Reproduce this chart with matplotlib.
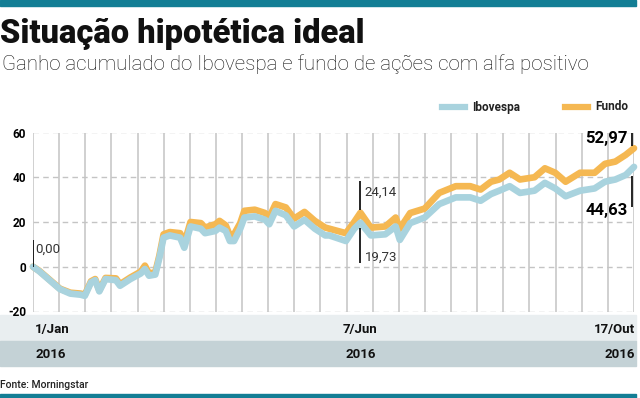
import numpy as np
import matplotlib
matplotlib.use("Agg")
import matplotlib.pyplot as plt
from matplotlib.patches import Rectangle
from matplotlib.lines import Line2D
import matplotlib.transforms as mtransforms

# ----------------------------
# Data
# ----------------------------
# days since 1/Jan/2016
day = [0, 3, 8, 13, 18, 23, 25, 28, 30, 32, 35, 40, 42, 47, 52, 54, 56, 59,
       61, 63, 66, 71, 73, 76, 81, 83, 88, 90, 93, 95, 97, 100, 102, 107,
       112, 114, 117, 122, 126, 131, 136, 141, 143, 151, 155, 158, 163, 170,
       175, 177, 182, 189, 196, 204, 211, 216, 221, 225, 230, 235, 242, 247,
       252, 257, 264, 271, 276, 281, 286, 290]

ibovespa = [0, -2, -6, -10, -12, -12.5, -13, -7, -6, -11, -5.5, -6, -8.5, -5.5,
            -3, -1, -4, -3.5, 4, 13, 14, 13, 8.5, 18, 17, 15, 16, 17.5, 16, 11.5,
            11.5, 17, 22, 22.5, 21, 19, 25, 23, 18, 21, 17, 14, 14, 11.5, 17,
            19.73, 14, 14.5, 18, 12, 19.5, 22, 28, 31, 31, 29.5, 32.5, 34, 36,
            33, 34, 37.5, 35, 31.5, 34, 35, 38, 39, 41, 44.63]

fundo = [0, -1.8, -5.8, -9.8, -11.6, -12, -12.5, -6.5, -5.5, -10.5, -5, -5.2,
         -7.8, -4.8, -2.2, 0.5, -3, -2.5, 5, 14.5, 15.5, 15, 10.5, 20, 19.5,
         17.5, 19, 20.5, 18.5, 14, 14.5, 19.5, 25, 25.5, 24, 22, 28, 26.5,
         21.5, 24.5, 20.5, 17.5, 17, 15, 20, 24.14, 17.5, 18, 22, 17, 24, 26,
         33, 36, 36, 34.5, 38, 39, 42, 39, 40, 44, 42, 38, 42, 42, 46, 47, 50,
         52.97]

series_names = ["Ibovespa", "Fundo"]
y_ticks = [-20, 0, 20, 40, 60]
x_label_days = [0, 158, 290]
x_labels = ["1/Jan", "7/Jun", "17/Out"]
year_labels = ["2016", "2016", "2016"]

title = "Situação hipotética ideal"
subtitle = "Ganho acumulado do Ibovespa e fundo de ações com alfa positivo"
source = "Fonte: Morningstar"

BLUE = "#a9d3de"
ORANGE = "#f5b852"
TEAL = "#137e95"
LIGHT_BAND = "#e9eef0"
DARK_BAND = "#c4d2d6"
GRID = "#c4c4c4"

plt.rcParams["font.family"] = ["Roboto", "DejaVu Sans"]

W, H = 640, 398
fig = plt.figure(figsize=(6.4, 3.98), dpi=100)


def fx(px):
    return px / W


def fy(py):
    return 1 - py / H


# ----------------------------
# Frame: bands, title
# ----------------------------
for y0, h, col in [(6, 6, TEAL), (398, 4, TEAL), (341, 26, LIGHT_BAND), (366, 25, DARK_BAND)]:
    fig.patches.append(Rectangle((0, fy(y0)), fx(636), h / H, transform=fig.transFigure,
                                 color=col, zorder=-1))

fig.text(fx(0), fy(34), title, fontsize=23.5, fontweight="heavy", va="center",
         ha="left", color="#111111")
fig.text(fx(2), fy(64), subtitle, fontsize=14.8, fontweight="light", va="center",
         ha="left", color="#111111")
fig.text(fx(0), fy(385), source, fontsize=7.5, fontweight="medium", va="center",
         ha="left", color="#222222")

# legend
leg = [(442, 465, 472, BLUE, series_names[0]), (565, 588, 595, ORANGE, series_names[1])]
for x0, x1, tx, col, name in leg:
    fig.add_artist(Line2D([fx(x0), fx(x1)], [fy(107), fy(107)], color=col, lw=4.5,
                          transform=fig.transFigure))
    fig.text(fx(tx), fy(107), name, fontsize=8.5, fontweight="bold", va="center",
             ha="left", color="#222222")

# ----------------------------
# Chart
# ----------------------------
ax = fig.add_axes([fx(33), fy(311.5), fx(634 - 33), (311.5 - 132.5) / H])
ax.set_xlim(0, 290)
ax.set_ylim(-20, 60)
for s in ax.spines.values():
    s.set_visible(False)
ax.set_facecolor("none")

ax.vlines(np.linspace(0, 290, 24), -20, 60, color=GRID, lw=1.1, zorder=1)
for t in y_ticks:
    ax.axhline(t, color=GRID, lw=1.0, ls=(0, (4, 3)), zorder=1)

ax.plot(day, fundo, color=ORANGE, lw=4.8, solid_joinstyle="round",
        solid_capstyle="round", zorder=3, clip_on=False)
ax.plot(day, ibovespa, color=BLUE, lw=4.8, solid_joinstyle="round",
        solid_capstyle="round", zorder=4, clip_on=False)

ax.set_yticks(y_ticks)
ax.set_yticklabels([str(t) for t in y_ticks], fontweight="bold", fontsize=8.5)
ax.tick_params(axis="y", length=0, pad=5)
ax.set_xticks([])


def fmt(v):
    return f"{v:.2f}".replace(".", ",")


# value markers
ax.vlines(day[0], ibovespa[0], ibovespa[0] + 12, color="black", lw=1.2, zorder=5)
ax.text(day[0] + 1.2, ibovespa[0] + 8, fmt(ibovespa[0]), fontsize=9.5,
        va="center", ha="left", color="#333333")

ax.vlines(day[45], fundo[45] + 1, fundo[45] + 14, color="black", lw=1.2, zorder=5)
ax.text(day[45] + 2, fundo[45] + 9, fmt(fundo[45]), fontsize=9.5,
        va="center", ha="left", color="#333333")
ax.vlines(day[45], ibovespa[45] - 2.5, ibovespa[45] - 18, color="black", lw=1.2, zorder=5)
ax.text(day[45] + 2, ibovespa[45] - 15.5, fmt(ibovespa[45]), fontsize=9.5,
        va="center", ha="left", color="#333333")

ax.vlines(day[-1] - 1, fundo[-1] + 1, fundo[-1] + 7, color="black", lw=1.2, zorder=5)
ax.text(day[-1] - 3, fundo[-1] + 4.5, fmt(fundo[-1]), fontsize=12,
        fontweight="bold", va="center", ha="right")
ax.vlines(day[-1] - 1, ibovespa[-1] - 4, ibovespa[-1] - 18, color="black", lw=1.2, zorder=5)
ax.text(day[-1] - 3, ibovespa[-1] - 19.5, fmt(ibovespa[-1]), fontsize=12,
        fontweight="bold", va="center", ha="right")

# x labels in the bands
trans = mtransforms.blended_transform_factory(ax.transData, fig.transFigure)
aligns = ["left", "center", "right"]
nudges = [1, 0, 0.5]
for d, lab, yr, ha, n in zip(x_label_days, x_labels, year_labels, aligns, nudges):
    ax.text(d + n, fy(330), lab, transform=trans, fontsize=9.5, fontweight="bold",
            ha=ha, va="center", color="#111111", clip_on=False)
    ax.text(d + n, fy(354), yr, transform=trans, fontsize=9.5, fontweight="bold",
            ha=ha, va="center", color="#111111", clip_on=False)

fig.savefig("out.png", dpi=100)
